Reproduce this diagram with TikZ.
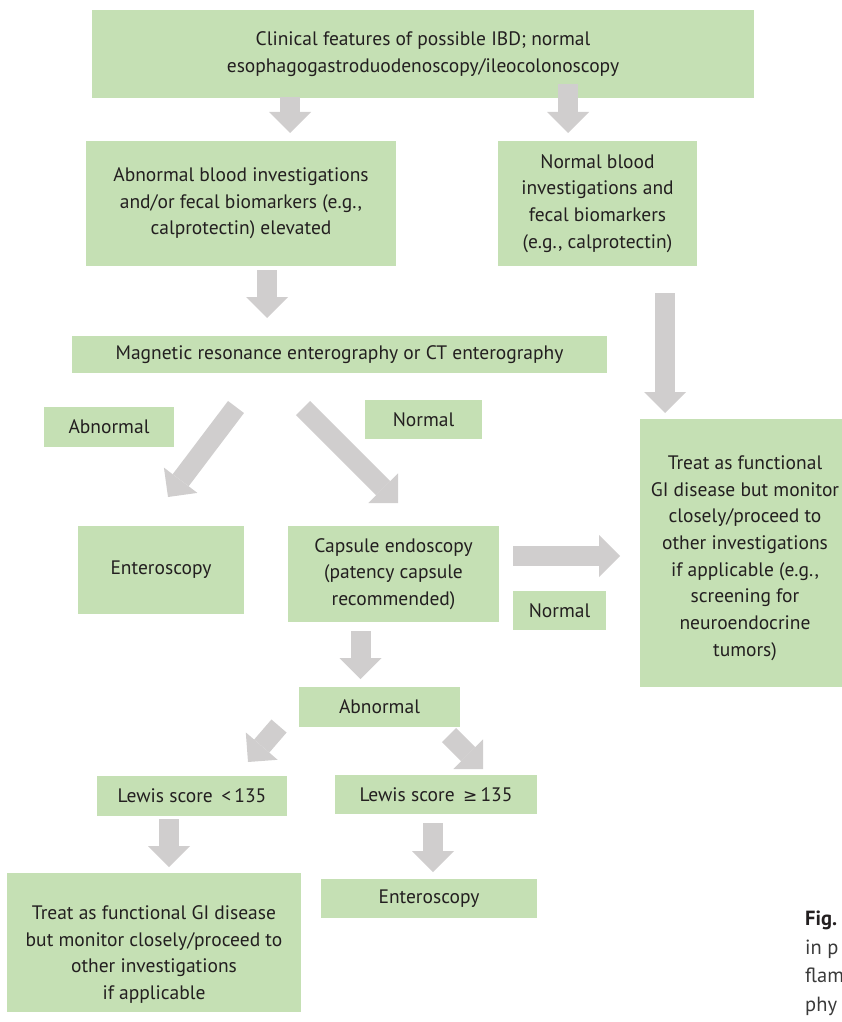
\documentclass[tikz,border=0pt]{standalone}
\usepackage{fontspec}
\setmainfont{PT Sans}
\newfontfamily\symfont{DejaVu Sans}
\usetikzlibrary{arrows.meta}

\definecolor{boxgreen}{HTML}{C5E0B4}
\definecolor{arrowgray}{HTML}{D0CECE}
\definecolor{inkgray}{HTML}{231F20}
\definecolor{captiongray}{HTML}{3A3A3A}

\tikzset{
  fatarrow/.style={draw=arrowgray, line width=20pt,
    -{Triangle[width=42pt,length=21pt,line width=0pt,fill=arrowgray]}}
}

\begin{document}
\begin{tikzpicture}[x=1pt,y=-1pt]
      \useasboundingbox (0,0) rectangle (841,1022);

      \begin{scope}[every node/.style={fill=boxgreen,text=inkgray,align=center,inner sep=0pt,
          font=\fontsize{19.5}{26.7}\selectfont}]
        \node[minimum width=662pt, minimum height=88pt]  (clinical)  at (423,54)
          {Clinical features of possible IBD; normal\\esophagogastroduodenoscopy/ileocolonoscopy};
        \node[minimum width=310pt, minimum height=125pt] (abnblood)  at (241,203.5)
          {Abnormal blood investigations\\and/or fecal biomarkers (e.g.,\\calprotectin) elevated};
        \node[minimum width=199pt, minimum height=125pt] (normblood) at (597.5,203.5)
          {Normal blood\\investigations and\\fecal biomarkers\\(e.g., calprotectin)};
        \node[minimum width=535pt, minimum height=37pt]  (mre)       at (339.5,354.5)
          {Magnetic resonance enterography or CT enterography};
        \node[minimum width=210pt, minimum height=268pt] (treatR)    at (745,553)
          {\rule{0pt}{24pt}Treat as functional\\GI disease but monitor\\closely/proceed to\\other investigations\\if applicable (e.g.,\\screening for\\neuroendocrine\\tumors)};
        \node[minimum width=130pt, minimum height=40pt]  (abnlbl)    at (109,427)     {Abnormal};
        \node[minimum width=117pt, minimum height=39pt]  (normlbl)   at (423.5,419.5) {Normal};
        \node[minimum width=166pt, minimum height=88pt]  (enteroA)   at (161,570)     {Enteroscopy};
        \node[minimum width=211pt, minimum height=96pt]  (capsule)   at (393.5,574)
          {Capsule endoscopy\\(patency capsule\\recommended)};
        \node[minimum width=93pt, minimum height=39pt]   (normlblB)  at (559.5,610.5) {Normal};
        \node[minimum width=161pt, minimum height=40pt]  (abnmid)    at (379.5,707)   {Abnormal};
        \node[minimum width=190pt, minimum height=40pt]  (lewislow)  at (192,796)
          {Lewis score \,<\,135};
        \node[minimum width=202pt, minimum height=39pt]  (lewishigh) at (436,794.5)
          {Lewis score \,{\symfont\fontsize{17}{20}\selectfont ≥}\,135};
        \node[minimum width=294pt, minimum height=139pt] (treatL)    at (154,942.5)
          {\rule{0pt}{38pt}Treat as functional GI disease\\but monitor closely/proceed to\\other investigations\\if applicable};
        \node[minimum width=216pt, minimum height=39pt]  (enteroB)   at (429,898.5)   {Enteroscopy};
      \end{scope}

      % caption, cut by the page edge
      \node[anchor=north west, align=left, inner sep=0pt, text=captiongray,
        font=\fontsize{20.5}{28.5}\selectfont] (caption) at (805,911) {\textbf{\color{inkgray}Fig.}\\in p\\flam\\phy};

      % ends of the block arrows
      \coordinate (a1s) at (290,97);      \coordinate (a1e) at (290,133);
      \coordinate (a2s) at (568,84);      \coordinate (a2e) at (568,133);
      \coordinate (a3s) at (267,270);     \coordinate (a3e) at (267,318);
      \coordinate (a4s) at (665,293);     \coordinate (a4e) at (665,413);
      \coordinate (a5s) at (236,407);     \coordinate (a5e) at (168,497);
      \coordinate (a6s) at (303,408);     \coordinate (a6e) at (398,503);
      \coordinate (a7s) at (513,556);     \coordinate (a7e) at (620,556);
      \coordinate (a8s) at (360.5,631);   \coordinate (a8e) at (360.5,679);
      \coordinate (a9s) at (449,735);     \coordinate (a9e) at (483,769);
      \coordinate (a10s) at (279,726);    \coordinate (a10e) at (248,762);
      \coordinate (a11s) at (169,819);    \coordinate (a11e) at (169,867);
      \coordinate (a12s) at (433,823);    \coordinate (a12e) at (433,872);

      \begin{scope}[every edge/.style={fatarrow}]
        \path (a1s) edge (a1e);
        \path (a2s) edge (a2e);
        \path (a3s) edge (a3e);
        \path (a4s) edge (a4e);
        \path (a5s) edge (a5e);
        \path (a6s) edge (a6e);
        \path (a7s) edge (a7e);
        \path (a8s) edge (a8e);
        \path (a9s) edge (a9e);
        \path (a10s) edge (a10e);
        \path (a11s) edge (a11e);
        \path (a12s) edge (a12e);
      \end{scope}

    \end{tikzpicture}
\end{document}
